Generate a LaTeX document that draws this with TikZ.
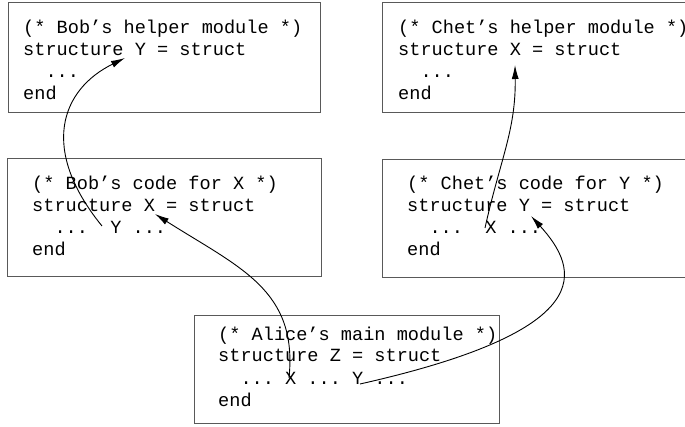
\documentclass[tikz,border=0pt]{standalone}
\usepackage{fontspec}
\setmonofont{Liberation Mono}
\usetikzlibrary{arrows.meta}
\tikzset{modbox/.style={draw=black!65,line width=1.1pt,inner sep=0pt,anchor=north west},
	 modtxt/.style={font=\ttfamily\fontsize{18.6}{22}\selectfont,align=left,inner sep=0pt,anchor=base west},
	 uses/.style={-{Latex[length=14pt,width=7pt]},line width=0.9pt}
	 }

\begin{document}
\begin{tikzpicture}[x=1pt,y=-1pt] % modules and the names they use
        \useasboundingbox (0,0) rectangle (685,427);
        \node[modbox,minimum width=312pt,minimum height=110pt] (bobhelp) at (8,2) {};
        \node[modbox,minimum width=318pt,minimum height=110pt] (chethelp) at (382,2) {};
        \node[modbox,minimum width=314pt,minimum height=118pt] (bobcode) at (7,158) {};
        \node[modbox,minimum width=318pt,minimum height=118pt] (chetcode) at (382,159) {};
        \node[modbox,minimum width=305pt,minimum height=108pt] (alice) at (194,315) {};
        % base anchor sits on the last line (end)
        \node[modtxt] (bobhelptxt) at (23,100) {(* Bob’s helper module *)\\structure Y = struct\\\hphantom{xx}...\\end};
        \node[modtxt] (chethelptxt) at (398,100) {(* Chet’s helper module *)\\structure X = struct\\\hphantom{xx}...\\end};
        \node[modtxt] (bobcodetxt) at (32,256) {(* Bob’s code for X *)\\structure X = struct\\\hphantom{xx}...\ \ Y ...\\end};
        \node[modtxt] (chetcodetxt) at (407,256) {(* Chet’s code for Y *)\\structure Y = struct\\\hphantom{xx}...\ \ X ...\\end};
        \node[modtxt] (alicetxt) at (218,406) {(* Alice’s main module *)\\structure Z = struct\\\hphantom{xx}... X ... Y ...\\end};
        \coordinate (bobY) at (102,226);
        \coordinate (bobhY) at (125,58);
        \coordinate (aliceX) at (289,378);
        \coordinate (bobX) at (155,214);
        \coordinate (chetX) at (485,228);
        \coordinate (chethX) at (515,65);
        \coordinate (aliceY) at (360,384);
        \coordinate (chetY) at (531,216);
        \draw[uses] (bobY) .. controls (40,150) and (60,90) .. (bobhY);
        \draw[uses] (aliceX) .. controls (298,290) and (240,268) .. (bobX);
        \draw[uses] (chetX) .. controls (500,160) and (516,130) .. (chethX);
        \draw[uses] (aliceY) .. controls (600,330) and (580,270) .. (chetY);
     \end{tikzpicture}
\end{document}
